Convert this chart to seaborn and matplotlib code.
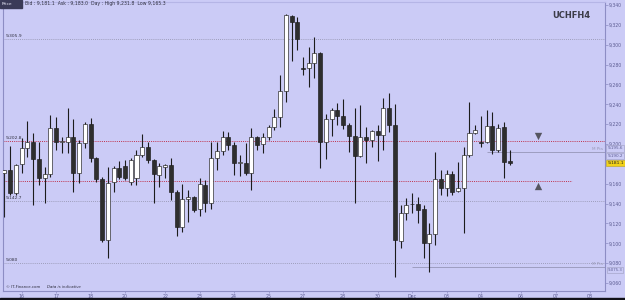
import matplotlib
matplotlib.use("Agg")
import matplotlib.pyplot as plt
import seaborn as sns
import numpy as np
import pandas as pd
from matplotlib.patches import Rectangle
from matplotlib.ticker import FuncFormatter, FixedLocator

# ---------------- data (4-hour candles) ----------------
opens = [9170.8, 9173.8, 9150.7, 9179.9, 9196.0, 9202.0, 9184.9, 9165.8, 9169.8, 9216.1,
         9202.0, 9202.0, 9207.0, 9170.8, 9201.0, 9220.1, 9185.9, 9164.8, 9103.4, 9161.8,
         9175.9, 9177.9, 9161.8, 9165.8, 9188.9, 9197.0, 9183.9, 9168.8, 9176.9, 9178.9,
         9151.7, 9116.5, 9144.7, 9146.7, 9134.6, 9158.8, 9140.6, 9185.9, 9193.0, 9207.0,
         9199.0, 9180.9, 9180.9, 9170.8, 9207.0, 9200.0, 9207.0, 9217.1, 9227.2, 9253.3,
         9328.8, 9322.7, 9276.5, 9276.5, 9281.5, 9291.5, 9202.0, 9225.1, 9234.2, 9228.2,
         9219.1, 9208.0, 9187.9, 9207.0, 9204.0, 9213.1, 9209.1, 9236.2, 9219.1, 9102.4,
         9130.6, 9139.6, 9139.6, 9134.6, 9100.4, 9109.5, 9164.8, 9155.7, 9169.8, 9152.7,
         9155.7, 9188.9, 9211.1, 9202.0, 9202.0, 9218.1, 9194.0, 9217.1, 9182.5]
highs = [9173.8, 9198.0, 9180.0, 9206.0, 9223.1, 9211.1, 9202.0, 9176.9, 9229.2, 9227.2,
         9207.0, 9236.2, 9225.1, 9204.0, 9222.1, 9226.2, 9186.9, 9166.8, 9176.9, 9177.9,
         9182.9, 9183.9, 9185.9, 9194.0, 9210.1, 9202.0, 9184.9, 9180.9, 9179.9, 9185.9,
         9153.7, 9159.8, 9153.7, 9147.7, 9165.8, 9163.8, 9202.0, 9202.0, 9213.1, 9212.1,
         9202.0, 9188.9, 9201.0, 9216.1, 9208.0, 9211.1, 9219.1, 9235.2, 9269.4, 9330.8,
         9329.8, 9327.8, 9287.5, 9297.6, 9307.6, 9292.6, 9230.2, 9236.2, 9241.2, 9245.3,
         9221.1, 9236.2, 9239.2, 9217.1, 9214.1, 9219.1, 9246.3, 9251.3, 9240.2, 9138.6,
         9145.7, 9150.7, 9146.7, 9138.6, 9120.5, 9192.0, 9173.8, 9173.8, 9172.8, 9181.9,
         9197.0, 9242.3, 9219.1, 9228.2, 9234.2, 9231.8, 9220.0, 9222.1, 9194.0]
lows = [9126.6, 9149.0, 9149.0, 9170.8, 9186.9, 9138.6, 9158.8, 9140.6, 9166.8, 9194.0,
        9190.9, 9190.9, 9151.7, 9160.8, 9196.0, 9181.9, 9161.8, 9101.4, 9085.3, 9151.7,
        9164.8, 9163.8, 9158.8, 9158.8, 9186.9, 9180.9, 9140.6, 9156.7, 9165.8, 9143.7,
        9107.4, 9111.5, 9121.5, 9131.6, 9127.6, 9131.6, 9134.6, 9173.8, 9188.9, 9194.0,
        9168.8, 9167.8, 9168.8, 9153.7, 9194.0, 9190.9, 9204.0, 9214.1, 9217.1, 9242.3,
        9283.5, 9294.6, 9269.4, 9257.3, 9266.4, 9175.9, 9184.9, 9208.0, 9219.1, 9215.1,
        9192.0, 9140.6, 9186.9, 9180.9, 9197.0, 9182.9, 9194.0, 9212.1, 9066.2, 9095.4,
        9123.5, 9130.6, 9120.5, 9085.3, 9071.2, 9098.4, 9148.7, 9147.7, 9148.7, 9151.7,
        9110.5, 9186.9, 9210.1, 9197.0, 9201.0, 9190.0, 9192.0, 9165.8, 9178.9]
closes = [9173.8, 9150.7, 9178.9, 9196.0, 9202.0, 9184.9, 9165.8, 9169.8, 9216.1, 9202.0,
          9203.0, 9207.0, 9170.8, 9201.0, 9220.1, 9185.9, 9164.8, 9103.4, 9160.8, 9175.9,
          9166.8, 9165.8, 9183.9, 9188.9, 9197.0, 9183.9, 9169.8, 9177.9, 9178.9, 9151.7,
          9116.5, 9144.7, 9146.7, 9133.6, 9159.8, 9140.6, 9185.9, 9193.0, 9207.0, 9199.0,
          9180.9, 9181.4, 9170.8, 9207.0, 9199.0, 9207.0, 9217.1, 9227.2, 9253.3, 9329.8,
          9322.7, 9305.6, 9276.0, 9281.5, 9291.5, 9202.0, 9225.1, 9234.2, 9228.2, 9219.1,
          9208.0, 9187.9, 9207.0, 9204.0, 9213.1, 9209.1, 9236.2, 9219.1, 9103.4, 9130.6,
          9138.6, 9139.1, 9133.6, 9100.4, 9109.5, 9164.8, 9155.7, 9169.8, 9151.7, 9155.7,
          9188.9, 9211.1, 9214.1, 9201.5, 9218.1, 9194.0, 9216.1, 9181.9, 9181.1]

day_tick_pos = [3, 9, 15, 21, 28, 34, 40, 46, 52, 59, 65, 71, 77, 83, 90, 96, 102]
day_tick_labels = ["16", "17", "18", "20", "22", "23", "24", "25", "27", "28",
                   "30", "Dec", "03", "04", "06", "07", "08"]
price_ticks = [9060, 9080, 9100, 9120, 9140, 9160, 9200, 9220, 9240, 9260,
               9280, 9300, 9320, 9340]

gray_levels = [9305.9, 9142.7, 9080.3]
gray_level_labels = ["9,305.9", "9,142.7", "9,080"]
red_level_full = 9202.8
red_level_short = 9162.8
mpts_levels = [9192.0, 9076.3]
mpts_start = [84, 71]
arrow_down = 9208.0
arrow_up = 9157.5
arrow_x = 93
bid, ask, day_high, day_low = 9181.1, 9183.0, 9231.8, 9165.3

# ---------------- styling ----------------
sns.set_theme(style="white")
plt.rcParams['font.family'] = ['DejaVu Sans']
BG = "#cbcbf6"
AXC = "#8d8dc4"
TXT = "#5c5c92"
DARK = "#1c1c1c"

df = pd.DataFrame(dict(open=opens, high=highs, low=lows, close=closes))
df["idx"] = np.arange(len(df))
df["up"] = df["close"] >= df["open"]
df["bottom"] = df[["open", "close"]].min(axis=1)
df["height"] = (df["close"] - df["open"]).abs().clip(lower=0.9)

fig = plt.figure(figsize=(6.25, 3.0), dpi=100)
fig.patch.set_facecolor(BG)
ax = fig.add_axes([3 / 625, 9 / 300, 602 / 625, 289 / 300])
ax.set_facecolor(BG)

# level lines
for lv in gray_levels:
    ax.axhline(lv, color="#8f8fa8", lw=0.6, ls=(0, (1, 1.5)), zorder=1)
ax.axhline(red_level_full, color="#c0304a", lw=0.7, ls=(0, (1, 1.2)), zorder=1)
ax.hlines(red_level_short, -0.3, 98.9, color="#c0304a", lw=0.7, ls=(0, (1, 1.2)), zorder=1)
for lv, st in zip(mpts_levels, mpts_start):
    ax.hlines(lv, st, 104.6, color="#9d9dc0", lw=0.7, zorder=1)

# candles
ax.vlines(df["idx"], df["low"], df["high"], color=DARK, lw=0.8, zorder=2)
ax.bar(df["idx"], df["height"], bottom=df["bottom"], width=0.7,
       color=np.where(df["up"], "#ffffff", "#2e2e2e"),
       edgecolor=DARK, linewidth=0.45, zorder=3)

# arrows
ax.scatter([arrow_x], [arrow_down], marker="v", s=28, color="#555560", zorder=4, linewidths=0)
ax.scatter([arrow_x], [arrow_up], marker="^", s=28, color="#555560", zorder=4, linewidths=0)

ax.set_xlim(-0.25, 104.6)
ax.set_ylim(9052, 9343)

ax.yaxis.tick_right()
ax.yaxis.set_major_locator(FixedLocator(price_ticks))
ax.yaxis.set_major_formatter(FuncFormatter(lambda v, p: f"{v:,.0f}"))
ax.set_xticks(day_tick_pos)
ax.set_xticklabels(day_tick_labels)
ax.tick_params(axis="y", which="both", right=True, left=False, length=2, width=0.5,
               color=AXC, labelsize=3.3, labelcolor=TXT, pad=1)
ax.tick_params(axis="x", which="both", bottom=True, length=1.5, width=0.5,
               color=AXC, labelsize=3.4, labelcolor=TXT, pad=0.5)
for s in ax.spines.values():
    s.set_color(AXC)
    s.set_linewidth(0.8)
ax.spines["top"].set_color("#b5b5e6")

# level labels on left
for lv, lab in zip(gray_levels, gray_level_labels):
    ax.text(0.3, lv + 1.2, lab, fontsize=3.2, color="#303040", va="bottom", ha="left")
ax.text(0.3, red_level_full + 1.2, "9,202.8", fontsize=3.2, color="#303040", va="bottom", ha="left")

# right side price boxes
ax.text(105.0, bid, f"{bid:,.1f}", fontsize=3.2, color="#222222", va="center", ha="left",
        clip_on=False, bbox=dict(boxstyle="square,pad=0.25", fc="#f2d21a", ec="#b8a020", lw=0.4))
ax.text(105.0, 9195.5, "9,195.6", fontsize=3.0, color=TXT, va="center", ha="left", clip_on=False,
        bbox=dict(boxstyle="square,pad=0.25", fc=BG, ec="#9d9dc0", lw=0.4))
ax.text(105.0, 9188.0, "9,190.2", fontsize=3.0, color=TXT, va="center", ha="left", clip_on=False,
        bbox=dict(boxstyle="square,pad=0.25", fc=BG, ec="#9d9dc0", lw=0.4))
ax.text(105.0, 9073.0, "9,075.3", fontsize=2.8, color=TXT, va="center", ha="left", clip_on=False,
        bbox=dict(boxstyle="square,pad=0.2", fc=BG, ec="#9d9dc0", lw=0.4))
ax.text(104.3, 9194.5, "M Pts", fontsize=3.0, color="#9a9ab8", va="center", ha="right")
ax.text(104.3, 9079.0, "M Pts", fontsize=3.0, color="#9a9ab8", va="center", ha="right")

# header
fig.add_artist(Rectangle((0, 292 / 300), 22 / 625, 8 / 300, transform=fig.transFigure,
                         color="#3a3a58", zorder=5))
fig.text(2 / 625, 296 / 300, "Price", fontsize=3.2, color="#e8e8f8", va="center", ha="left", zorder=6)
fig.text(25 / 625, 296 / 300,
         f"Bid : {bid:,.1f}  Ask : {ask:,.1f}  Day : High {day_high:,.1f}  Low {day_low:,.1f}",
         fontsize=3.3, color="#303040", va="center", ha="left")
fig.text(590 / 625, 284 / 300, "UCHFH4", fontsize=6, color="#3c3c48", fontweight="bold",
         va="center", ha="right")

# footer
ax.text(0.3, 9054.5, "© IT-Finance.com", fontsize=2.8, color="#303040", va="bottom", ha="left")
ax.text(7.4, 9054.5, "Data is indicative", fontsize=2.8, color="#303040", style="italic",
        va="bottom", ha="left")
fig.add_artist(Rectangle((0, 0), 1, 2.5 / 300, transform=fig.transFigure, color="#101018", zorder=5))

fig.savefig("out.png", dpi=100, facecolor=BG)
